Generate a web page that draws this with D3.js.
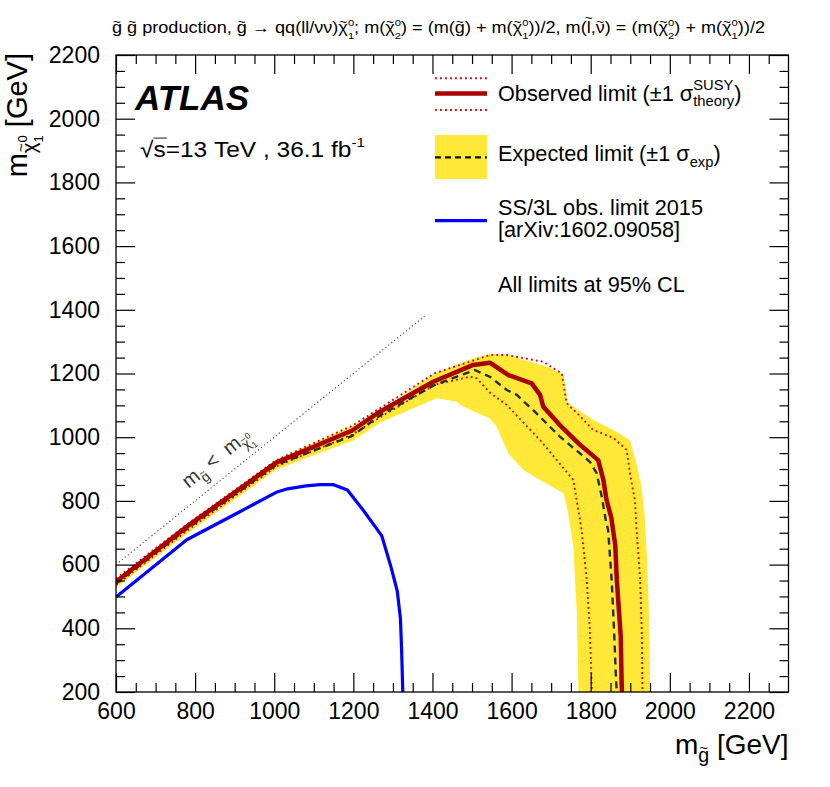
<!DOCTYPE html>
<html><head><meta charset="utf-8">
<script src="https://cdn.jsdelivr.net/npm/d3@7"></script>
<style>
body{margin:0;background:#fff}
svg{display:block}
text{font-family:"Liberation Sans",Arial,Helvetica,sans-serif;fill:#000}
</style>
</head><body>
<svg id="c" width="830" height="787"></svg>
<script>
// ---------------- data ----------------
const xDomain = [600, 2300];
const yDomain = [200, 2200];
const xMajor = [600, 800, 1000, 1200, 1400, 1600, 1800, 2000, 2200];
const xTickLabels = ["600","800","1000","1200","1400","1600","1800","2000","2200"];
const yMajor = [200, 400, 600, 800, 1000, 1200, 1400, 1600, 1800, 2000, 2200];
const yTickLabels = ["200","400","600","800","1000","1200","1400","1600","1800","2000","2200"];

// observed limit (m_gluino, m_chi1)
const observed = [[600,546],[779,719],[1005,920],[1197,1021],[1267,1080],[1402,1174],[1503,1227],[1545,1234],[1592,1195],[1651,1169],[1672,1133],[1680,1096],[1722,1038],[1773,976],[1819,928],[1832,866],[1840,803],[1852,748],[1862,661],[1866,552],[1870,480],[1876,373],[1878,238],[1879,200]];
const observedUp = [[600,556],[779,726],[1005,928],[1197,1036],[1267,1091],[1406,1201],[1545,1258],[1588,1258],[1680,1237],[1727,1200],[1739,1107],[1765,1076],[1806,1023],[1857,998],[1891,960],[1900,880],[1912,800],[1916,709],[1925,552],[1929,395],[1931,200]];
const observedDown = [[600,536],[779,706],[1005,908],[1197,1008],[1267,1062],[1406,1165],[1495,1190],[1512,1185],[1545,1140],[1588,1101],[1672,991],[1756,866],[1777,709],[1790,552],[1798,395],[1802,238],[1803,200]];
// expected limit and its +-1 sigma band
const expected = [[600,540],[779,712],[1005,913],[1197,1004],[1267,1068],[1402,1162],[1507,1211],[1545,1190],[1588,1148],[1613,1133],[1663,1075],[1722,1002],[1773,949],[1798,923],[1815,887],[1828,813],[1838,740],[1844,709],[1853,552],[1859,395],[1864,238],[1866,200]];
const bandUpper = [[600,553],[779,724],[1005,929],[1200,1037],[1300,1110],[1406,1200],[1500,1246],[1545,1262],[1590,1258],[1630,1243],[1689,1222],[1731,1196],[1742,1110],[1758,1094],[1807,1054],[1857,1023],[1899,991],[1915,920],[1928,850],[1936,760],[1941,650],[1946,500],[1949,350],[1950,200]];
const bandLower = [[600,527],[779,697],[1005,898],[1100,943],[1200,990],[1267,1045],[1350,1090],[1411,1122],[1461,1111],[1478,1096],[1545,1059],[1562,1033],[1592,949],[1630,897],[1672,866],[1731,824],[1743,762],[1756,656],[1765,448],[1769,200]];
// SS/3L 2015 observed limit
const ss3l2015 = [[600,498],[779,678],[907,762],[1005,827],[1034,838],[1080,847],[1116,851],[1150,851],[1185,834],[1226,769],[1272,690],[1296,589],[1311,517],[1319,431],[1322,330],[1325,200]];
// kinematic boundary m_gluino = m_chi1
const kinLine = [[600,600],[1380,1380]];
const kinLabelAt = [783, 838];

// ---------------- setup ----------------
const FONT = '"Liberation Sans", Arial, Helvetica, sans-serif';
const svg = d3.select("#c");
const X0 = 116, X1 = 788.5, Y0 = 55, Y1 = 692;
const x = d3.scaleLinear().domain(xDomain).range([X0, X1]);
const y = d3.scaleLinear().domain(yDomain).range([Y1, Y0]);

svg.append("defs").append("clipPath").attr("id","clip")
  .append("rect").attr("x",X0).attr("y",Y0).attr("width",X1-X0).attr("height",Y1-Y0);
const plot = svg.append("g").attr("clip-path","url(#clip)");
const line = d3.line().x(d=>x(d[0])).y(d=>y(d[1]));

const C_OBS = "#a80000", C_DOT = "#cc1111", C_YEL = "#ffe838", C_EXP = "#24303f", C_BLUE = "#0000ff";
const DOT = "1.9,3.1", DASH = "7,5";

plot.append("path").attr("d", line(bandUpper.concat(bandLower.slice().reverse())) + "Z")
  .attr("fill", C_YEL).attr("stroke","none");
[observedUp, observedDown].forEach(s => plot.append("path").attr("d", line(s))
  .attr("fill","none").attr("stroke",C_DOT).attr("stroke-width",1.9).attr("stroke-dasharray",DOT));
plot.append("path").attr("d", line(expected)).attr("fill","none")
  .attr("stroke",C_EXP).attr("stroke-width",2.4).attr("stroke-dasharray",DASH);
plot.append("path").attr("d", line(observed)).attr("fill","none")
  .attr("stroke",C_OBS).attr("stroke-width",4.5).attr("stroke-linejoin","round");
plot.append("path").attr("d", line(ss3l2015)).attr("fill","none")
  .attr("stroke",C_BLUE).attr("stroke-width",3.2).attr("stroke-linejoin","round");
plot.append("path").attr("d", line(kinLine)).attr("fill","none")
  .attr("stroke","#444").attr("stroke-width",1.1).attr("stroke-dasharray","1.2,2.6");

// ---------------- axes ----------------
const xMinor = d3.range(650, 2300, 50).filter(v => v % 200 !== 0);
const yMinor = d3.range(250, 2200, 50).filter(v => v % 200 !== 0);
const MAJ = 19, MIN = 9;
function styleAxis(g){
  g.attr("font-size",23).attr("font-family",FONT);
  g.select(".domain").remove();
  g.selectAll(".tick line").attr("stroke","#000").attr("stroke-width",1.2);
  g.selectAll(".tick text").attr("fill","#000");
}
svg.append("g").attr("transform",`translate(0,${Y1})`)
  .call(d3.axisBottom(x).tickValues(xMajor).tickSize(-MAJ).tickPadding(11).tickFormat((d,i)=>xTickLabels[i])).call(styleAxis);
svg.append("g").attr("transform",`translate(0,${Y1})`)
  .call(d3.axisBottom(x).tickValues(xMinor).tickSize(-MIN).tickFormat("")).call(styleAxis);
svg.append("g").attr("transform",`translate(0,${Y0})`)
  .call(d3.axisTop(x).tickValues(xMajor).tickSize(-MAJ).tickFormat("")).call(styleAxis);
svg.append("g").attr("transform",`translate(0,${Y0})`)
  .call(d3.axisTop(x).tickValues(xMinor).tickSize(-MIN).tickFormat("")).call(styleAxis);
svg.append("g").attr("transform",`translate(${X0},0)`)
  .call(d3.axisLeft(y).tickValues(yMajor).tickSize(-MAJ).tickPadding(16).tickFormat((d,i)=>yTickLabels[i])).call(styleAxis);
svg.append("g").attr("transform",`translate(${X0},0)`)
  .call(d3.axisLeft(y).tickValues(yMinor).tickSize(-MIN).tickFormat("")).call(styleAxis);
svg.append("g").attr("transform",`translate(${X1},0)`)
  .call(d3.axisRight(y).tickValues(yMajor).tickSize(-MAJ).tickFormat("")).call(styleAxis);
svg.append("g").attr("transform",`translate(${X1},0)`)
  .call(d3.axisRight(y).tickValues(yMinor).tickSize(-MIN).tickFormat("")).call(styleAxis);
svg.append("rect").attr("x",X0).attr("y",Y0).attr("width",X1-X0).attr("height",Y1-Y0)
  .attr("fill","none").attr("stroke","#000").attr("stroke-width",1.3);

// ---------------- rich text helper ----------------
function rich(parent, parts, fs, base={}) {
  const g = parent.append("g");
  let cx = 0;
  function put(p, x0) {
    const s = fs * (p.s || 1);
    const yy = (p.dy || 0) * fs;
    const t = g.append("text").attr("x", x0).attr("y", yy).attr("font-size", s)
      .text(p.t.replace(/ /g, "\u00A0"));
    if (base.fill) t.style("fill", base.fill);
    if (base.w || p.w) t.attr("font-weight", base.w || p.w);
    if (base.it || p.it) t.attr("font-style", "italic");
    const w = t.node().getComputedTextLength();
    if (p.tl) {
      const tt = g.append("text").attr("x", x0 + w/2).attr("y", yy - s*(p.hi ? 0.66 : 0.46))
        .attr("font-size", s*0.75).attr("text-anchor","middle").text("~");
      if (base.fill) tt.style("fill", base.fill);
    }
    if (p.ol) g.append("line").attr("x1", x0).attr("x2", x0 + w + 1)
      .attr("y1", yy - s*0.86).attr("y2", yy - s*0.86).attr("stroke","#000").attr("stroke-width",0.9);
    return w;
  }
  for (const p of parts) {
    const q = (typeof p === "string") ? {t:p} : p;
    if (q.stack) { const ws = q.stack.map(r => put(r, cx)); cx += Math.max(...ws); }
    else cx += put(q, cx);
  }
  return {g, w: cx};
}
function place(r, px, py, opt={}) {
  const sx = opt.width ? opt.width / r.w : (opt.sx || 1);
  const off = opt.anchor === "end" ? -r.w*sx : opt.anchor === "middle" ? -r.w*sx/2 : 0;
  r.g.attr("transform", `translate(${px},${py}) rotate(${opt.rot||0}) translate(${off},0) scale(${sx},1)`);
}
const chiT = (sup, sub) => [
  {t:"χ", tl:1},
  {stack:[{t:sup, s:0.62, dy:-0.45}, {t:sub, s:0.62, dy:0.36}]}
];

// ---------------- title ----------------
const titleParts = [
  {t:"g",tl:1}, " ", {t:"g",tl:1}, " production, ", {t:"g",tl:1}, " → qq(ll/νν)",
  ...chiT("0","1"), "; m(", ...chiT("0","2"), ") = (m(", {t:"g",tl:1}, ") + m(",
  ...chiT("0","1"), "))/2, m(", {t:"l",tl:1,hi:1}, ",", {t:"ν",tl:1}, ") = (m(",
  ...chiT("0","2"), ") + m(", ...chiT("0","1"), "))/2"
];
place(rich(svg, titleParts, 16), 112, 33, {width: 653});

// ---------------- axis titles ----------------
place(rich(svg, ["m", {t:"g", tl:1, s:0.7, dy:0.3}, " [GeV]"], 28), X1, 754, {anchor:"end"});
place(rich(svg, ["m", {t:"χ", tl:1, s:0.7, dy:0.3},
  {stack:[{t:"0", s:0.45, dy:0.0}, {t:"1", s:0.45, dy:0.55}]}, " [GeV]"], 29), 27, 53, {anchor:"end", rot:-90});

// ---------------- labels ----------------
place(rich(svg, ["ATLAS"], 35, {w:"bold", it:1}), 135, 110);
place(rich(svg, ["√", {t:"s", ol:1}, "=13 TeV , 36.1 fb", {t:"-1", s:0.62, dy:-0.45}], 22), 140, 157, {width: 225});

// kinematic boundary label, parallel to the m_gluino = m_chi1 line
const ang = -Math.atan2(y(600) - y(1380), x(1380) - x(600)) * 180 / Math.PI;
place(rich(svg, ["m", {t:"g", tl:1, s:0.7, dy:0.3}, " <  m", {t:"χ", tl:1, s:0.7, dy:0.3},
  {stack:[{t:"0", s:0.45, dy:-0.05}, {t:"1", s:0.45, dy:0.5}]}], 20, {fill:"#333"}),
  x(kinLabelAt[0]), y(kinLabelAt[1]), {rot: ang});

// ---------------- legend ----------------
const LX1 = 435, LX2 = 487, TX = 498, LFS = 21.7;
const leg = svg.append("g");
leg.append("line").attr("x1",LX1).attr("x2",LX2).attr("y1",78.3).attr("y2",78.3)
  .attr("stroke",C_DOT).attr("stroke-width",1.9).attr("stroke-dasharray",DOT);
leg.append("line").attr("x1",LX1).attr("x2",LX2).attr("y1",110).attr("y2",110)
  .attr("stroke",C_DOT).attr("stroke-width",1.9).attr("stroke-dasharray",DOT);
leg.append("line").attr("x1",LX1).attr("x2",LX2).attr("y1",93.5).attr("y2",93.5)
  .attr("stroke",C_OBS).attr("stroke-width",4.5);
leg.append("rect").attr("x",LX1).attr("y",135).attr("width",LX2-LX1).attr("height",44).attr("fill",C_YEL);
leg.append("line").attr("x1",LX1).attr("x2",LX2).attr("y1",157.3).attr("y2",157.3)
  .attr("stroke","#111").attr("stroke-width",2.2).attr("stroke-dasharray","6,4");
leg.append("line").attr("x1",LX1).attr("x2",LX2).attr("y1",220.7).attr("y2",220.7)
  .attr("stroke",C_BLUE).attr("stroke-width",3.2);

place(rich(leg, ["Observed limit (±1 σ",
  {stack:[{t:"SUSY", s:0.68, dy:-0.5}, {t:"theory", s:0.68, dy:0.22}]}, ")"], LFS), TX, 101);
place(rich(leg, ["Expected limit (±1 σ", {t:"exp", s:0.68, dy:0.28}, ")"], LFS), TX, 161);
place(rich(leg, ["SS/3L obs. limit 2015"], LFS), TX, 215);
place(rich(leg, ["[arXiv:1602.09058]"], LFS), TX, 237);
place(rich(leg, ["All limits at 95% CL"], LFS), TX, 292);
</script>
</body></html>
